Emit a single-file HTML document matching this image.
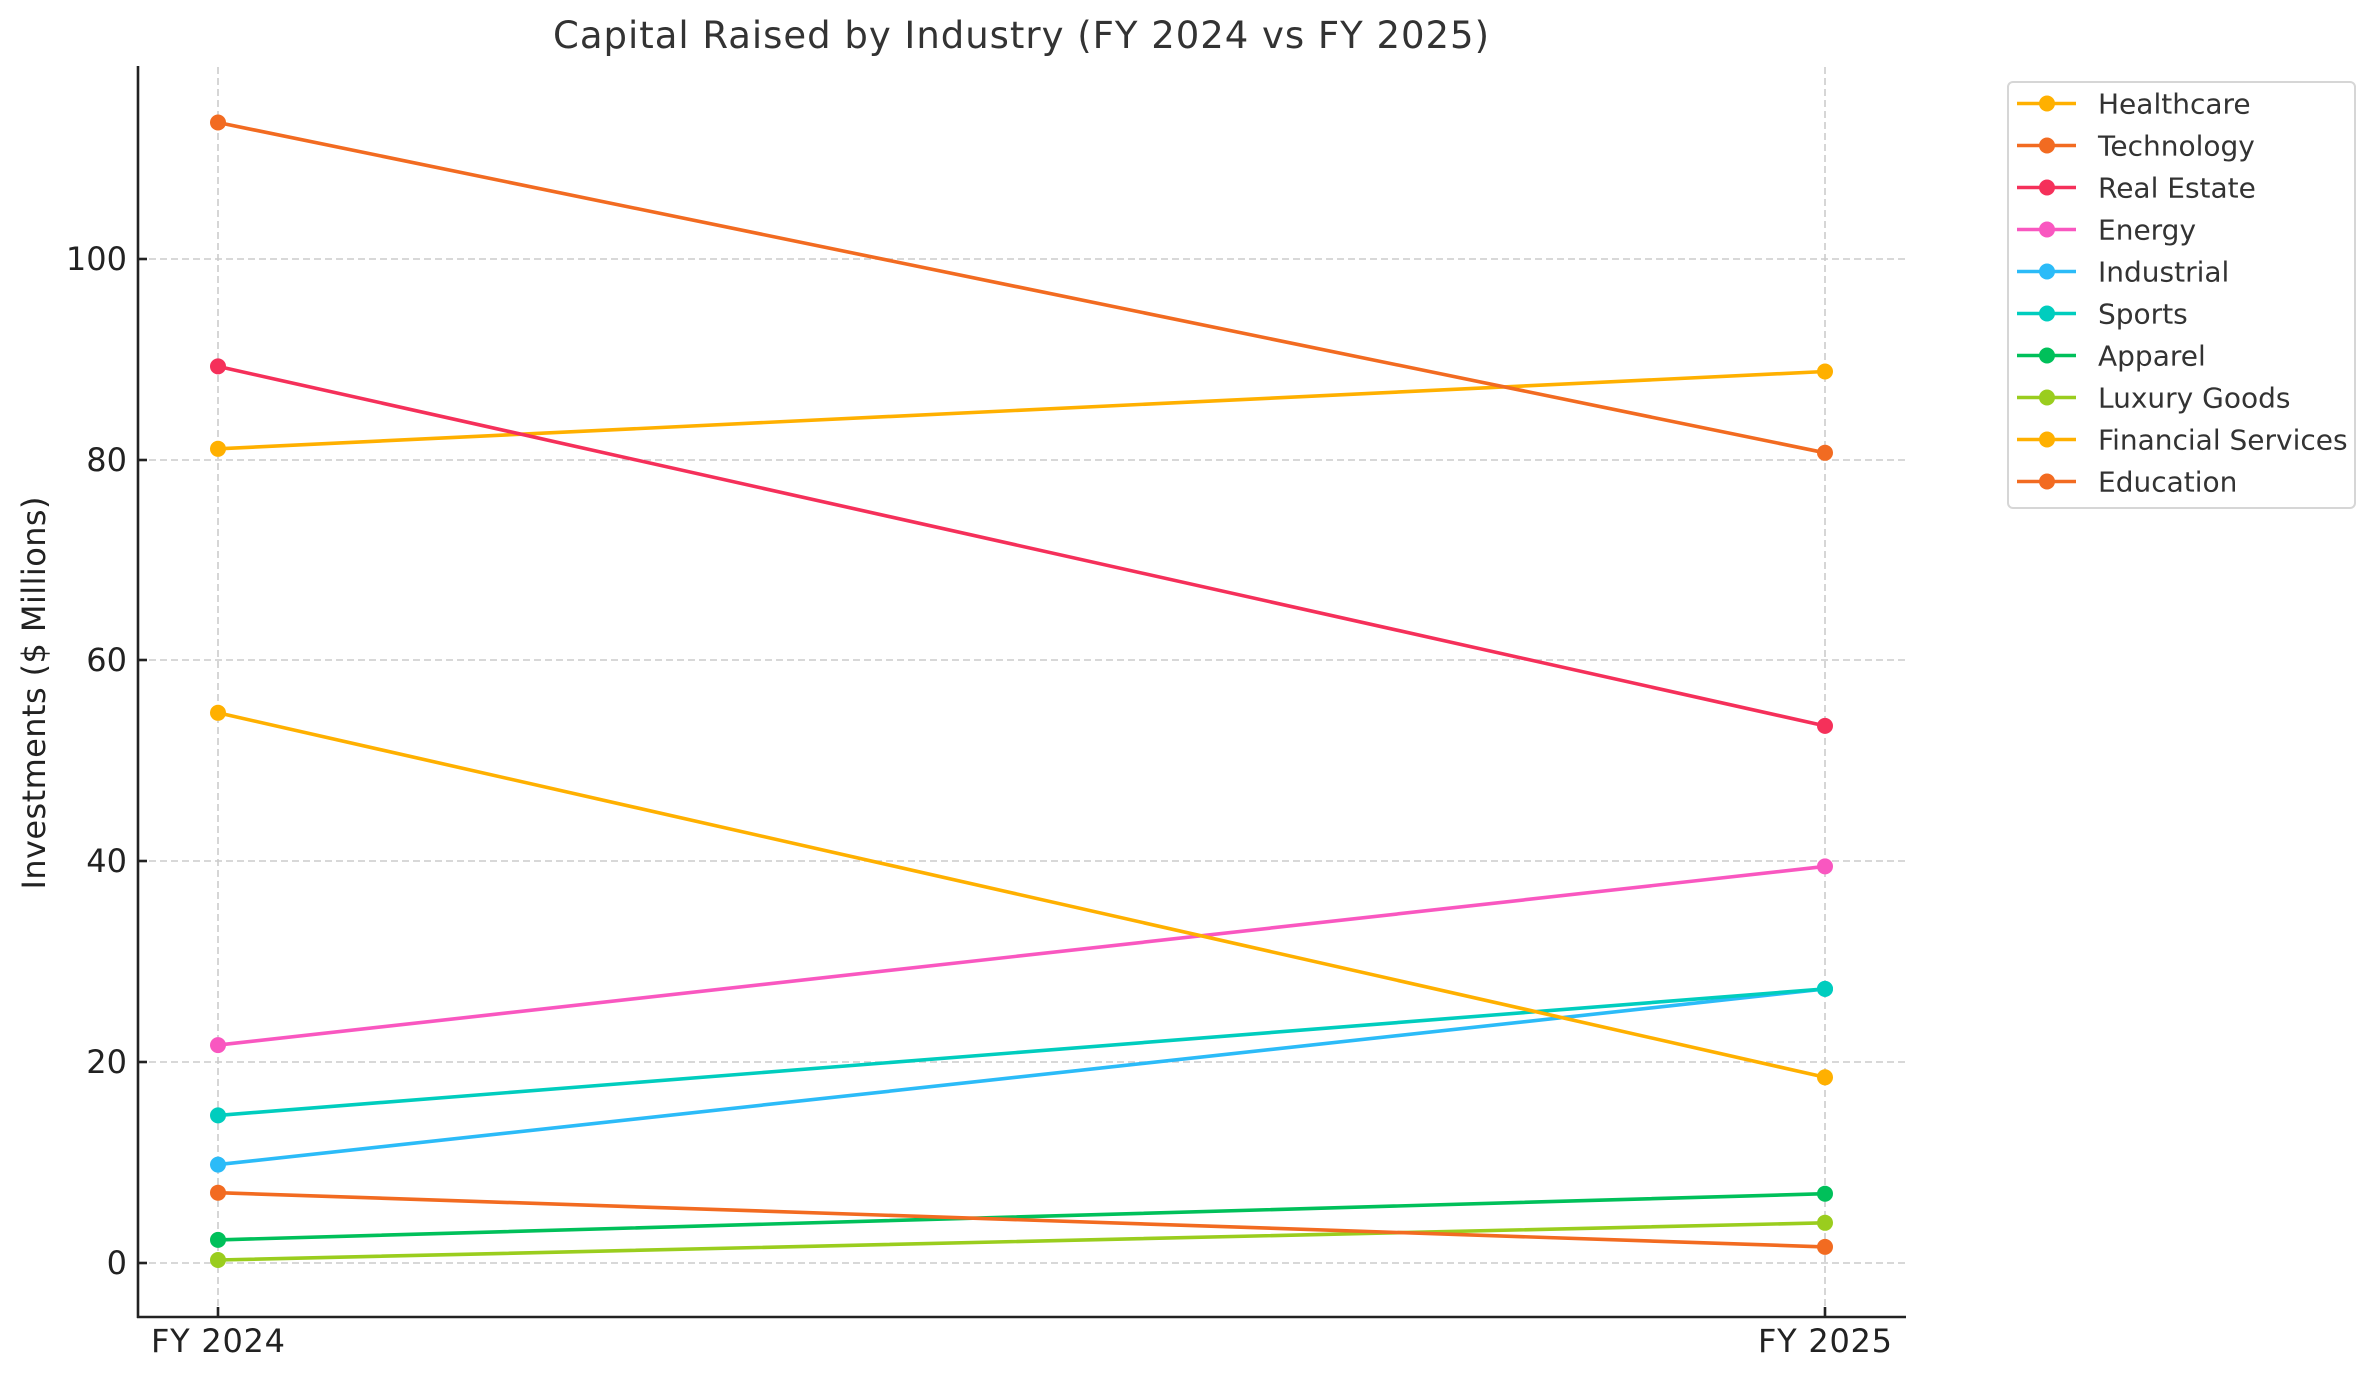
<!DOCTYPE html>
<html><head><meta charset="utf-8"><style>
html,body{margin:0;padding:0;background:#fff;}
svg{display:block;font-family:"DejaVu Sans","Liberation Sans",sans-serif;}
</style></head><body>
<svg width="2375" height="1380" viewBox="0 0 2375 1380" xmlns="http://www.w3.org/2000/svg">
<rect width="2375" height="1380" fill="#fff"/>
<g stroke="#cccccc" stroke-width="1.6" stroke-dasharray="7,4" fill="none">
<line x1="138" x2="1905" y1="1263" y2="1263"/>
<line x1="138" x2="1905" y1="1062" y2="1062"/>
<line x1="138" x2="1905" y1="861" y2="861"/>
<line x1="138" x2="1905" y1="660" y2="660"/>
<line x1="138" x2="1905" y1="460" y2="460"/>
<line x1="138" x2="1905" y1="259" y2="259"/>
<line x1="218" x2="218" y1="67" y2="1317"/>
<line x1="1825" x2="1825" y1="67" y2="1317"/>
</g>
<g stroke="#222" stroke-width="2.6">
<line x1="138" y1="66" x2="138" y2="1318"/>
<line x1="137" y1="1317" x2="1906" y2="1317"/>
<line x1="138" y1="1263" x2="147" y2="1263"/>
<line x1="138" y1="1062" x2="147" y2="1062"/>
<line x1="138" y1="861" x2="147" y2="861"/>
<line x1="138" y1="660" x2="147" y2="660"/>
<line x1="138" y1="460" x2="147" y2="460"/>
<line x1="138" y1="259" x2="147" y2="259"/>
<line x1="218" y1="1317" x2="218" y2="1307"/>
<line x1="1825" y1="1317" x2="1825" y2="1307"/>
</g>
<g font-size="32" fill="#222" text-anchor="end">
<text x="127" y="1274">0</text>
<text x="127" y="1073">20</text>
<text x="127" y="872">40</text>
<text x="127" y="671">60</text>
<text x="127" y="471">80</text>
<text x="127" y="270">100</text>
</g>
<g font-size="32" fill="#222" text-anchor="middle">
<text x="218" y="1352" textLength="134">FY 2024</text>
<text x="1825" y="1352" textLength="134">FY 2025</text>
</g>
<text x="1021" y="48" font-size="37" fill="#333" text-anchor="middle" textLength="936">Capital Raised by Industry (FY 2024 vs FY 2025)</text>
<text transform="translate(45,693) rotate(-90)" font-size="32" fill="#222" text-anchor="middle" textLength="393">Investments ($ Millions)</text>
<g stroke-width="3.6" fill="none" stroke-linecap="round">
<line x1="218" y1="448.8" x2="1825" y2="371.5" stroke="#FFB000"/>
<line x1="218" y1="122.5" x2="1825" y2="452.8" stroke="#F26B21"/>
<line x1="218" y1="366.4" x2="1825" y2="725.9" stroke="#F5305A"/>
<line x1="218" y1="1045.1" x2="1825" y2="866.4" stroke="#F957C0"/>
<line x1="218" y1="1164.6" x2="1825" y2="988.9" stroke="#2BBBF8"/>
<line x1="218" y1="1115.4" x2="1825" y2="988.9" stroke="#00CDBE"/>
<line x1="218" y1="1239.9" x2="1825" y2="1193.7" stroke="#00C05A"/>
<line x1="218" y1="1260" x2="1825" y2="1222.8" stroke="#9ACD1E"/>
<line x1="218" y1="712.8" x2="1825" y2="1077.3" stroke="#FFB000"/>
<line x1="218" y1="1192.7" x2="1825" y2="1246.9" stroke="#F26B21"/>
</g>
<g>
<circle cx="218" cy="448.8" r="8" fill="#FFB000"/><circle cx="1825" cy="371.5" r="8" fill="#FFB000"/>
<circle cx="218" cy="122.5" r="8" fill="#F26B21"/><circle cx="1825" cy="452.8" r="8" fill="#F26B21"/>
<circle cx="218" cy="366.4" r="8" fill="#F5305A"/><circle cx="1825" cy="725.9" r="8" fill="#F5305A"/>
<circle cx="218" cy="1045.1" r="8" fill="#F957C0"/><circle cx="1825" cy="866.4" r="8" fill="#F957C0"/>
<circle cx="218" cy="1164.6" r="8" fill="#2BBBF8"/><circle cx="1825" cy="988.9" r="8" fill="#2BBBF8"/>
<circle cx="218" cy="1115.4" r="8" fill="#00CDBE"/><circle cx="1825" cy="988.9" r="8" fill="#00CDBE"/>
<circle cx="218" cy="1239.9" r="8" fill="#00C05A"/><circle cx="1825" cy="1193.7" r="8" fill="#00C05A"/>
<circle cx="218" cy="1260" r="8" fill="#9ACD1E"/><circle cx="1825" cy="1222.8" r="8" fill="#9ACD1E"/>
<circle cx="218" cy="712.8" r="8" fill="#FFB000"/><circle cx="1825" cy="1077.3" r="8" fill="#FFB000"/>
<circle cx="218" cy="1192.7" r="8" fill="#F26B21"/><circle cx="1825" cy="1246.9" r="8" fill="#F26B21"/>
</g>
<rect x="2008" y="82" width="347" height="426" rx="5" fill="#fff" stroke="#d6d6d6" stroke-width="2"/>
<g font-size="28" fill="#333">
<g transform="translate(0,103.5)"><line x1="2017" x2="2076" stroke="#FFB000" stroke-width="3.6"/><circle cx="2047" r="8" fill="#FFB000"/><text x="2098" y="10">Healthcare</text></g>
<g transform="translate(0,145.5)"><line x1="2017" x2="2076" stroke="#F26B21" stroke-width="3.6"/><circle cx="2047" r="8" fill="#F26B21"/><text x="2098" y="10">Technology</text></g>
<g transform="translate(0,187.5)"><line x1="2017" x2="2076" stroke="#F5305A" stroke-width="3.6"/><circle cx="2047" r="8" fill="#F5305A"/><text x="2098" y="10">Real Estate</text></g>
<g transform="translate(0,229.5)"><line x1="2017" x2="2076" stroke="#F957C0" stroke-width="3.6"/><circle cx="2047" r="8" fill="#F957C0"/><text x="2098" y="10">Energy</text></g>
<g transform="translate(0,271.5)"><line x1="2017" x2="2076" stroke="#2BBBF8" stroke-width="3.6"/><circle cx="2047" r="8" fill="#2BBBF8"/><text x="2098" y="10">Industrial</text></g>
<g transform="translate(0,313.5)"><line x1="2017" x2="2076" stroke="#00CDBE" stroke-width="3.6"/><circle cx="2047" r="8" fill="#00CDBE"/><text x="2098" y="10">Sports</text></g>
<g transform="translate(0,355.5)"><line x1="2017" x2="2076" stroke="#00C05A" stroke-width="3.6"/><circle cx="2047" r="8" fill="#00C05A"/><text x="2098" y="10">Apparel</text></g>
<g transform="translate(0,397.5)"><line x1="2017" x2="2076" stroke="#9ACD1E" stroke-width="3.6"/><circle cx="2047" r="8" fill="#9ACD1E"/><text x="2098" y="10">Luxury Goods</text></g>
<g transform="translate(0,439.5)"><line x1="2017" x2="2076" stroke="#FFB000" stroke-width="3.6"/><circle cx="2047" r="8" fill="#FFB000"/><text x="2098" y="10">Financial Services</text></g>
<g transform="translate(0,481.5)"><line x1="2017" x2="2076" stroke="#F26B21" stroke-width="3.6"/><circle cx="2047" r="8" fill="#F26B21"/><text x="2098" y="10">Education</text></g>
</g>
</svg>
</body></html>
